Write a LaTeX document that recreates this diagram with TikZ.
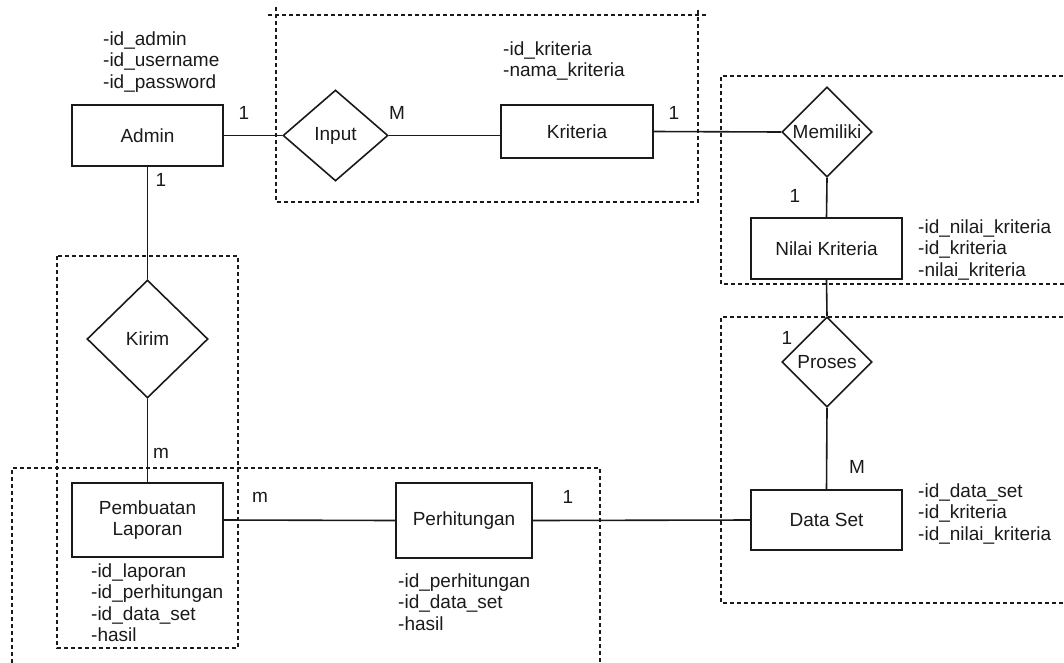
\documentclass[tikz,border=0pt]{standalone}
\usepackage{fontspec}
\setmainfont{Liberation Sans}
\usetikzlibrary{shapes.geometric}
\definecolor{ink}{HTML}{1A1A1A}
\begin{document}
\begin{tikzpicture}[x=1pt,y=-1pt,
  txt/.style={font=\fontsize{19}{21.5}\selectfont, text=ink},
  entity/.style={txt, draw=ink, line width=1.6pt, inner sep=0pt, align=center},
  rel/.style={txt, draw=ink, line width=1.6pt, shape=diamond, inner sep=0pt},
  attr/.style={txt, anchor=north west, inner sep=0pt, align=left},
  card/.style={txt, inner sep=0pt},
  link/.style={draw=ink, line width=1.6pt},
  group/.style={draw=ink, line width=1.2pt, dash pattern=on 4pt off 3pt}]

\useasboundingbox (0,0) rectangle (1064,662);
\clip (0,0) rectangle (1064,662);

% dashed grouping frames
\draw[group] (268,15) -- (707,15);
\draw[group] (276,7) -- (276,202) -- (698,202) -- (698,10);
\draw[group] (1070,76) -- (721,76) -- (721,284) -- (1070,284);
\draw[group] (1070,317) -- (721,317) -- (721,603) -- (1070,603);
\draw[group] (57,256) rectangle (238,648);
\draw[group] (12,670) -- (12,468) -- (600,468) -- (600,670);

% entities
\node[entity, minimum width=151, minimum height=61] (admin) at (147.5,135.5) {Admin};
\node[entity, minimum width=152, minimum height=53] (kriteria) at (577,131.5) {Kriteria};
\node[entity, minimum width=151, minimum height=61] (nilai) at (826.5,248.5) {Nilai Kriteria};
\node[entity, minimum width=151, minimum height=60] (dataset) at (826.5,520) {Data Set};
\node[entity, minimum width=151, minimum height=74] (laporan) at (147.5,520) {Pembuatan\\Laporan};
\node[entity, minimum width=136, minimum height=75] (hitung) at (464,520.5) {Perhitungan};

% relationships
\node[rel, minimum width=105, minimum height=91] (input) at (335.5,135.5) {Input};
\node[rel, minimum width=90, minimum height=90] (memiliki) at (827,132) {Memiliki};
\node[rel, minimum width=90, minimum height=90] (proses) at (827,362) {Proses};
\node[rel, minimum width=121, minimum height=118] (kirim) at (147.5,339) {Kirim};

% connectors
\draw[link] (admin.east) -- (input.west);
\draw[link] (input.east) -- (kriteria.west |- input.east);
\draw[link] (kriteria.east) -- (memiliki.west);
\draw[link] (memiliki.south) -- (nilai.north);
\draw[link] (nilai.south) -- (proses.north);
\draw[link] (proses.south) -- (dataset.north);
\draw[link] (hitung.east) -- (dataset.west);
\draw[link] (laporan.east) -- (hitung.west);
\draw[link] (admin.south) -- (kirim.north);
\draw[link] (kirim.south) -- (laporan.north);

% attributes
\node[attr] (aadmin) at (103,31.5) {-id\_admin\\-id\_username\\-id\_password};
\node[attr] (akriteria) at (503,41.5) {-id\_kriteria\\-nama\_kriteria};
\node[attr] (anilai) at (918,219.5) {-id\_nilai\_kriteria\\-id\_kriteria\\-nilai\_kriteria};
\node[attr] (adataset) at (918,483.5) {-id\_data\_set\\-id\_kriteria\\-id\_nilai\_kriteria};
\node[attr] (alaporan) at (91,563.5) {-id\_laporan\\-id\_perhitungan\\-id\_data\_set\\-hasil};
\node[attr] (ahitung) at (398,573.5) {-id\_perhitungan\\-id\_data\_set\\-hasil};

% cardinalities
\node[card] (c1) at (244,113) {1};
\node[card] (c2) at (161,180) {1};
\node[card] (c3) at (397,113) {M};
\node[card] (c4) at (674,113) {1};
\node[card] (c5) at (795,196) {1};
\node[card] (c6) at (787,338) {1};
\node[card] (c7) at (857,467) {M};
\node[card] (c8) at (161,453) {m};
\node[card] (c9) at (260,497) {m};
\node[card] (c10) at (568,497) {1};
\end{tikzpicture}
\end{document}
